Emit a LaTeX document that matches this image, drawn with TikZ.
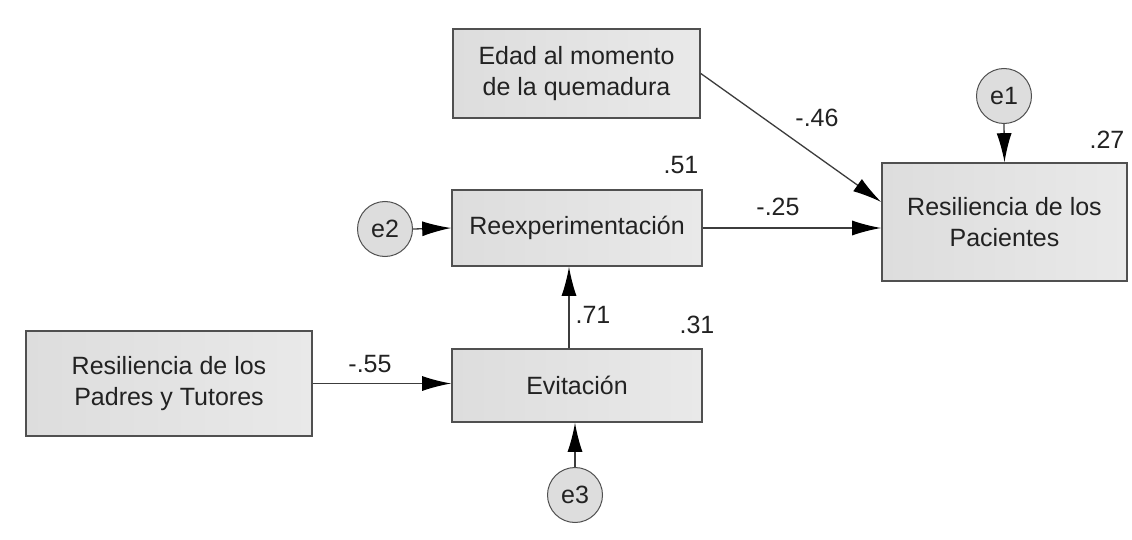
\documentclass[tikz,border=0pt]{standalone}
\usepackage{fontspec}
\setmainfont{Liberation Sans}
\usetikzlibrary{arrows.meta}
\definecolor{boxline}{RGB}{80,80,80}
\definecolor{boxfillL}{RGB}{221,221,221}
\definecolor{boxfillR}{RGB}{233,233,233}
\definecolor{txt}{RGB}{34,34,34}
\definecolor{pathcol}{RGB}{60,60,60}
\tikzset{
  var/.style={draw=boxline, line width=1.6pt, left color=boxfillL, right color=boxfillR,
    rectangle, align=center, text=txt, inner sep=0pt,
    font=\fontsize{25}{31}\selectfont},
  err/.style={draw=boxline, line width=1pt, fill=boxfillL, circle, minimum size=55pt,
    inner sep=0pt, text=txt, font=\fontsize{25}{30}\selectfont},
  lab/.style={text=txt, inner sep=0pt, font=\fontsize{25}{30}\selectfont},
  path/.style={draw=pathcol, line width=1.3pt,
    -{Latex[length=29pt,width=15pt,black]}},
}
\begin{document}
\begin{tikzpicture}[x=1pt,y=-1pt]
\useasboundingbox[fill=white] (0,0) rectangle (1132,540);
% variables
\node[var, minimum width=247pt, minimum height=89pt] (edad) at (576.5,73.5) {Edad al momento\\de la quemadura};
\node[var, minimum width=245pt, minimum height=118pt] (pac) at (1004.5,222) {Resiliencia de los\\Pacientes};
\node[var, minimum width=250pt, minimum height=76pt] (reexp) at (577,228) {Reexperimentación};
\node[var, minimum width=250pt, minimum height=73pt] (evit) at (577,385.5) {Evitación};
\node[var, minimum width=286pt, minimum height=105pt] (padres) at (169,383.5) {Resiliencia de los\\Padres y Tutores};
% errors
\node[err] (e1) at (1004,96) {e1};
\node[err] (e2) at (385,229) {e2};
\node[err] (e3) at (575,495) {e3};
% paths
\draw[path] (edad.east) -- ([yshift=20pt]pac.west);
\draw[path] (reexp.east) -- ([yshift=-6pt]pac.west);
\draw[path] (e1.south) -- (pac.north);
\draw[path] (e2.east) -- (reexp.west);
\draw[path] ([xshift=-8pt]evit.north) -- ([xshift=-8pt]reexp.south);
\draw[path] (padres.east) -- (evit.west |- padres.east);
\draw[path] (e3.north) -- (e3.north |- evit.south);
% labels
\node[lab] (l46) at (817,118) {-.46};
\node[lab] (l27) at (1107,140) {.27};
\node[lab] (l51) at (681,165) {.51};
\node[lab] (l25) at (778,207) {-.25};
\node[lab] (l71) at (593,315) {.71};
\node[lab] (l31) at (697,325) {.31};
\node[lab] (l55) at (370,364) {-.55};
\end{tikzpicture}
\end{document}
